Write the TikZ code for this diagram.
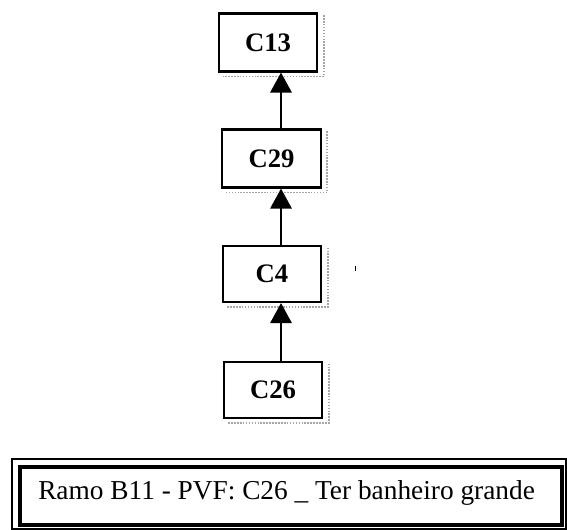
\documentclass[tikz,border=0pt]{standalone}
\usepackage{fontspec}
\setmainfont{Liberation Serif}
\usetikzlibrary{arrows.meta}
\begin{document}
\begin{tikzpicture}[x=0.75pt,y=-0.75pt,
  cbox/.style={draw,line width=1.6pt,minimum width=74pt,minimum height=43.5pt,inner sep=0pt,font=\fontsize{20}{24}\selectfont\bfseries},
  shadowline/.style={gray!70,densely dotted,line width=1.2pt},
  link/.style={line width=1.5pt,-{Triangle[width=16pt,length=15pt]}}]
\useasboundingbox (0,0) rectangle (567,530);
\node[cbox] (c13) at (268,42.5) {C13};
\node[cbox] (c29) at (271.5,158.5) {C29};
\node[cbox,minimum height=42pt] (c4) at (272,274) {C4};
\node[cbox,minimum height=42pt] (c26) at (273,390) {C26};
\foreach \n in {c13,c29,c4,c26}{
  \draw[shadowline] ([xshift=4pt,yshift=-2pt]\n.north east) -- ([xshift=4pt,yshift=-3pt]\n.south east) -- ([xshift=4pt,yshift=-3pt]\n.south west);
}
\draw[link] (c29.north -| 281,0) -- (c13.south -| 281,0);
\draw[link] (c4.north -| 281,0) -- (c29.south -| 281,0);
\draw[link] (c26.north -| 281,0) -- (c4.south -| 281,0);
\draw[line width=1pt] (355.5,266) -- (355.5,271);
\draw[line width=1pt] (12,459) rectangle (566,529);
\draw[line width=3.2pt] (20,467) rectangle (562,525);
\node[anchor=base west,inner sep=0pt,font=\fontsize{20.5}{24}\selectfont] (lbl) at (38,499) {Ramo B11 - PVF: C26 \_ Ter banheiro grande};
\end{tikzpicture}
\end{document}
